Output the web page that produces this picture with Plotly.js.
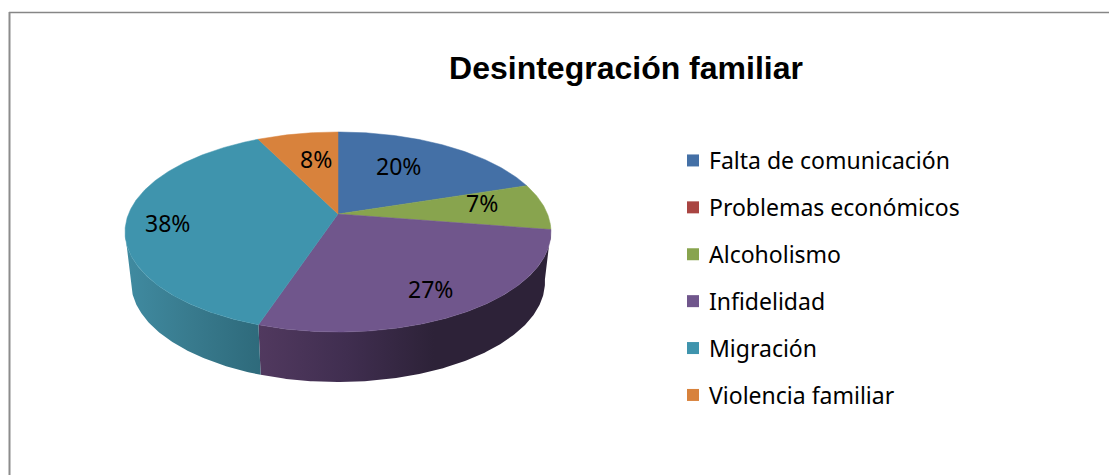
<!DOCTYPE html>
<html><head><meta charset="utf-8">
<script src="https://cdn.plot.ly/plotly-3.0.1.min.js"></script>
<style>html,body{margin:0;padding:0;background:#fff}#c{width:1109px;height:475px}</style></head>
<body><div id="c"></div>
<script>
const categories = ['Falta de comunicación','Problemas económicos','Alcoholismo','Infidelidad','Migración','Violencia familiar'];
const shares = [20, 0, 7.5, 27.6, 37.6, 7.3];
const printedLabels = ['20%','','7%','27%','38%','8%'];
const colors = ['#4470a6','#a94542','#88a44e','#70568c','#3f94ad','#d8823c'];
const labelX = [398,null,482,430,167,316];
const labelY = [166,null,203,289,223,159];
const wallGradients = {
  3:[[0,'#51395f'],[0.3,'#402e50'],[0.6,'#2d2238'],[1,'#2d2238']],
  4:[[0,'#408ba1'],[0.5,'#387a8d'],[1,'#2e6a7b']]
};

const CX=338, APEX=214, K=0.18, A=96.8, B=209.5, DEPTH=50, BOTTOM_SCALE=207/213;
const rad=p=>p/100*2*Math.PI;
function rim(t){const sx=Math.sin(t),cy=Math.cos(t),d=1+K*cy;return [B*sx/d, APEX-A*cy/d];}
function arc(a,b){const n=Math.max(2,Math.ceil((b-a)/0.01)),o=[];for(let i=0;i<=n;i++)o.push(rim(a+(b-a)*i/n));return o;}
const silhouette=2*Math.PI-Math.acos(-K);

const traces=[]; let cum=0; const tops=[];
categories.forEach((name,i)=>{
  const a=rad(cum), b=rad(cum+shares[i]); cum+=shares[i];
  if(shares[i]>0){
    const pts=arc(a,b);
    if(wallGradients[i]){
      const end=Math.min(b,silhouette), w=arc(a,end);
      const xs=w.map(p=>CX+p[0]).concat(w.slice().reverse().map(p=>CX+p[0]*BOTTOM_SCALE));
      const ys=w.map(p=>p[1]).concat(w.slice().reverse().map(p=>p[1]+DEPTH));
      xs.push(xs[0]);ys.push(ys[0]);
      traces.push({type:'scatter',mode:'lines',x:xs,y:ys,fill:'toself',line:{width:0},showlegend:false,hoverinfo:'skip',
        fillgradient:{type:'horizontal',colorscale:wallGradients[i]}});
    }
    tops.push({type:'scatter',mode:'lines',name:name,x:[CX].concat(pts.map(p=>CX+p[0]),[CX]),y:[APEX].concat(pts.map(p=>p[1]),[APEX]),
      fill:'toself',fillcolor:colors[i],line:{width:0.5,color:colors[i]},showlegend:false,hoverinfo:'name'});
  }
});
traces.push(...tops);
categories.forEach((name,i)=>traces.push({type:'scatter',mode:'markers',name:name,x:[null],y:[null],legendgroup:'g'+i,
  marker:{symbol:'square',size:12,color:colors[i]},showlegend:true}));

const labelFont={family:'Noto Sans, sans-serif',size:23,color:'#000'};
const annotations=printedLabels.map((t,i)=>t?{x:labelX[i],y:labelY[i],xref:'x',yref:'y',text:t,showarrow:false,font:labelFont}:null).filter(Boolean);
const layout={
  width:1109,height:475,margin:{l:0,r:0,t:0,b:0},paper_bgcolor:'#fff',plot_bgcolor:'#fff',
  title:{text:'<b>Desintegración familiar</b>',x:626/1109,xanchor:'center',y:1-68/475,yanchor:'middle',font:{family:'Liberation Sans, Arial, sans-serif',size:32,color:'#000'}},
  xaxis:{range:[0,1109],visible:false,fixedrange:true},
  yaxis:{range:[475,0],visible:false,fixedrange:true},
  legend:{x:669/1109,y:1-139/475,xanchor:'left',yanchor:'top',tracegroupgap:14,bgcolor:'rgba(0,0,0,0)',font:{family:'Noto Sans, sans-serif',size:23,color:'#000'}},
  annotations:annotations,
  shapes:[
    {type:'line',xref:'x',yref:'y',x0:9,x1:1109,y0:12.5,y1:12.5,line:{color:'#868686',width:1.5}},
    {type:'line',xref:'x',yref:'y',x0:9.5,x1:9.5,y0:12,y1:475,line:{color:'#8c8c8c',width:2}}
  ]
};
Plotly.newPlot('c',traces,layout,{displayModeBar:false,responsive:false}).then(()=>{
  document.querySelectorAll('#c .legend .legendpoints').forEach(g=>g.setAttribute('transform','translate(4,0)'));
});
</script></body></html>
